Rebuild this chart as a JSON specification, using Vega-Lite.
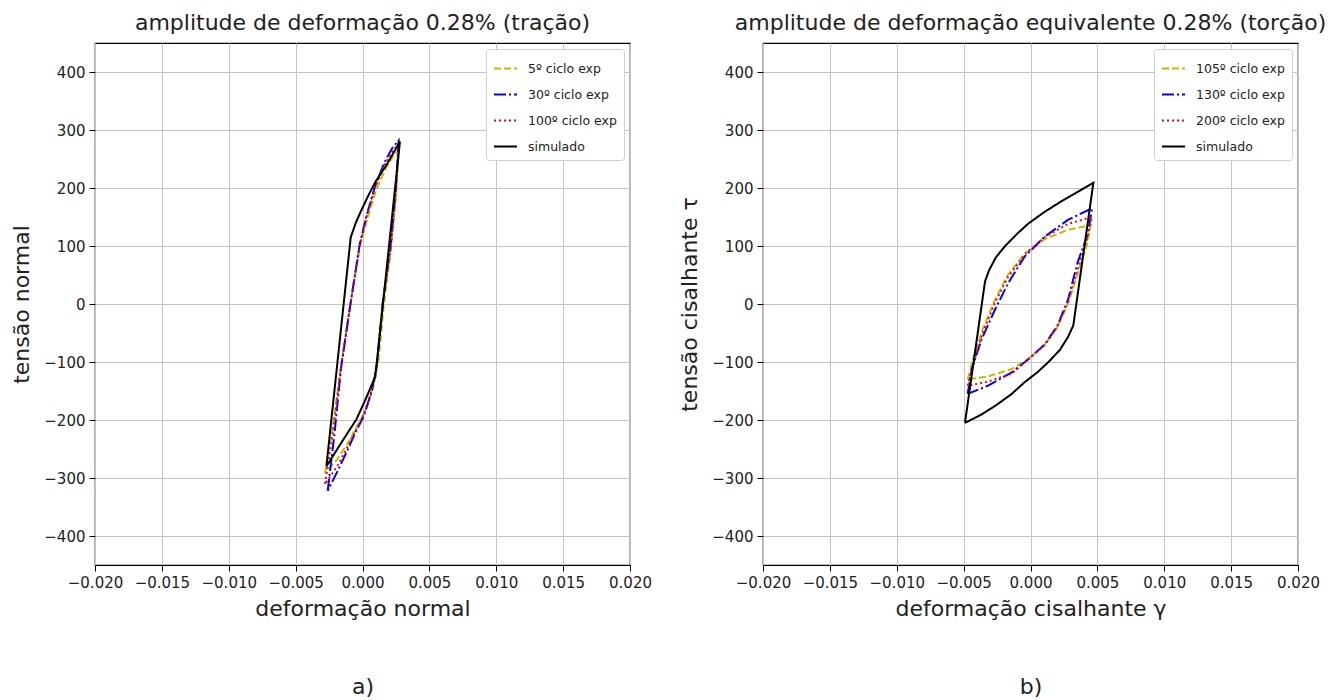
{
  "$schema": "https://vega.github.io/schema/vega-lite/v6.json",
  "padding": {"left": 10, "top": 11, "right": 0, "bottom": 0},
  "spacing": 25,
  "config": {
    "font": "DejaVu Sans",
    "view": {"stroke": "black", "strokeWidth": 1.2},
    "axis": {"grid": true, "gridColor": "#c4c4c4", "gridWidth": 1, "domain": false, "tickColor": "black", "tickSize": 6, "labelFontSize": 15, "labelColor": "#222", "labelFont": "DejaVu Sans", "titleFont": "DejaVu Sans", "titleFontSize": 22, "titleFontWeight": "normal", "titleColor": "#222", "labelPadding": 4, "labelOverlap": false, "labelBound": false, "labelFlush": false},
    "title": {"fontSize": 22, "fontWeight": "normal", "font": "DejaVu Sans", "color": "#222", "offset": 8},
    "legend": {"orient": "top-right", "offset": 6, "fillColor": "white", "strokeColor": "#d0d0d0", "cornerRadius": 3, "padding": 7, "symbolType": "stroke", "symbolSize": 529, "symbolStrokeWidth": 2, "labelFontSize": 12.5, "labelFont": "DejaVu Sans", "labelColor": "#222", "rowPadding": 7, "labelOffset": 10}
  },
  "datasets": {
    "a": [
      {"s": "5º ciclo exp", "i": 0, "x": -0.0028, "y": -292},
      {"s": "5º ciclo exp", "i": 1, "x": -0.0022, "y": -210},
      {"s": "5º ciclo exp", "i": 2, "x": -0.0016, "y": -105},
      {"s": "5º ciclo exp", "i": 3, "x": -0.0009, "y": 0},
      {"s": "5º ciclo exp", "i": 4, "x": -0.0002, "y": 100},
      {"s": "5º ciclo exp", "i": 5, "x": 0.0004, "y": 150},
      {"s": "5º ciclo exp", "i": 6, "x": 0.0010, "y": 195},
      {"s": "5º ciclo exp", "i": 7, "x": 0.0017, "y": 232},
      {"s": "5º ciclo exp", "i": 8, "x": 0.0023, "y": 255},
      {"s": "5º ciclo exp", "i": 9, "x": 0.0027, "y": 265},
      {"s": "5º ciclo exp", "i": 10, "x": 0.0025, "y": 185},
      {"s": "5º ciclo exp", "i": 11, "x": 0.0021, "y": 90},
      {"s": "5º ciclo exp", "i": 12, "x": 0.0016, "y": 0},
      {"s": "5º ciclo exp", "i": 13, "x": 0.0012, "y": -95},
      {"s": "5º ciclo exp", "i": 14, "x": 0.0008, "y": -145},
      {"s": "5º ciclo exp", "i": 15, "x": 0.0002, "y": -185},
      {"s": "5º ciclo exp", "i": 16, "x": -0.0005, "y": -215},
      {"s": "5º ciclo exp", "i": 17, "x": -0.0011, "y": -240},
      {"s": "5º ciclo exp", "i": 18, "x": -0.0019, "y": -268},
      {"s": "5º ciclo exp", "i": 19, "x": -0.0028, "y": -292},
      {"s": "30º ciclo exp", "i": 0, "x": -0.0026, "y": -322},
      {"s": "30º ciclo exp", "i": 1, "x": -0.0021, "y": -225},
      {"s": "30º ciclo exp", "i": 2, "x": -0.0016, "y": -110},
      {"s": "30º ciclo exp", "i": 3, "x": -0.0009, "y": 0},
      {"s": "30º ciclo exp", "i": 4, "x": -0.0002, "y": 104},
      {"s": "30º ciclo exp", "i": 5, "x": 0.0003, "y": 152},
      {"s": "30º ciclo exp", "i": 6, "x": 0.0009, "y": 200},
      {"s": "30º ciclo exp", "i": 7, "x": 0.0016, "y": 242},
      {"s": "30º ciclo exp", "i": 8, "x": 0.0022, "y": 268},
      {"s": "30º ciclo exp", "i": 9, "x": 0.0027, "y": 282},
      {"s": "30º ciclo exp", "i": 10, "x": 0.0025, "y": 200},
      {"s": "30º ciclo exp", "i": 11, "x": 0.0021, "y": 100},
      {"s": "30º ciclo exp", "i": 12, "x": 0.0015, "y": 0},
      {"s": "30º ciclo exp", "i": 13, "x": 0.0011, "y": -100},
      {"s": "30º ciclo exp", "i": 14, "x": 0.0007, "y": -150},
      {"s": "30º ciclo exp", "i": 15, "x": 0.0001, "y": -193},
      {"s": "30º ciclo exp", "i": 16, "x": -0.0006, "y": -225},
      {"s": "30º ciclo exp", "i": 17, "x": -0.0011, "y": -251},
      {"s": "30º ciclo exp", "i": 18, "x": -0.0018, "y": -285},
      {"s": "30º ciclo exp", "i": 19, "x": -0.0026, "y": -322},
      {"s": "100º ciclo exp", "i": 0, "x": -0.0028, "y": -310},
      {"s": "100º ciclo exp", "i": 1, "x": -0.0022, "y": -220},
      {"s": "100º ciclo exp", "i": 2, "x": -0.0016, "y": -108},
      {"s": "100º ciclo exp", "i": 3, "x": -0.0009, "y": 0},
      {"s": "100º ciclo exp", "i": 4, "x": -0.0002, "y": 102},
      {"s": "100º ciclo exp", "i": 5, "x": 0.0003, "y": 150},
      {"s": "100º ciclo exp", "i": 6, "x": 0.0009, "y": 198},
      {"s": "100º ciclo exp", "i": 7, "x": 0.0016, "y": 238},
      {"s": "100º ciclo exp", "i": 8, "x": 0.0022, "y": 262},
      {"s": "100º ciclo exp", "i": 9, "x": 0.0027, "y": 276},
      {"s": "100º ciclo exp", "i": 10, "x": 0.0025, "y": 195},
      {"s": "100º ciclo exp", "i": 11, "x": 0.0021, "y": 95},
      {"s": "100º ciclo exp", "i": 12, "x": 0.0015, "y": 0},
      {"s": "100º ciclo exp", "i": 13, "x": 0.0011, "y": -98},
      {"s": "100º ciclo exp", "i": 14, "x": 0.0007, "y": -148},
      {"s": "100º ciclo exp", "i": 15, "x": 0.0001, "y": -190},
      {"s": "100º ciclo exp", "i": 16, "x": -0.0006, "y": -222},
      {"s": "100º ciclo exp", "i": 17, "x": -0.0012, "y": -250},
      {"s": "100º ciclo exp", "i": 18, "x": -0.0019, "y": -280},
      {"s": "100º ciclo exp", "i": 19, "x": -0.0028, "y": -310},
      {"s": "simulado", "i": 0, "x": -0.0027, "y": -280},
      {"s": "simulado", "i": 1, "x": -0.00088, "y": 115},
      {"s": "simulado", "i": 2, "x": -0.0005, "y": 140},
      {"s": "simulado", "i": 3, "x": -0.0001, "y": 161},
      {"s": "simulado", "i": 4, "x": 0.0005, "y": 190},
      {"s": "simulado", "i": 5, "x": 0.001, "y": 212},
      {"s": "simulado", "i": 6, "x": 0.0018, "y": 240},
      {"s": "simulado", "i": 7, "x": 0.0028, "y": 280},
      {"s": "simulado", "i": 8, "x": 0.00096, "y": -125},
      {"s": "simulado", "i": 9, "x": 0.00016, "y": -168},
      {"s": "simulado", "i": 10, "x": -0.00046, "y": -199},
      {"s": "simulado", "i": 11, "x": -0.00158, "y": -239},
      {"s": "simulado", "i": 12, "x": -0.0027, "y": -280}
    ],
    "b": [
      {"s": "105º ciclo exp", "i": 0, "x": -0.0047, "y": -130},
      {"s": "105º ciclo exp", "i": 1, "x": -0.0043, "y": -95},
      {"s": "105º ciclo exp", "i": 2, "x": -0.0036, "y": -45},
      {"s": "105º ciclo exp", "i": 3, "x": -0.0027, "y": 5},
      {"s": "105º ciclo exp", "i": 4, "x": -0.0017, "y": 50},
      {"s": "105º ciclo exp", "i": 5, "x": -0.0004, "y": 88},
      {"s": "105º ciclo exp", "i": 6, "x": 0.0011, "y": 112},
      {"s": "105º ciclo exp", "i": 7, "x": 0.0028, "y": 128},
      {"s": "105º ciclo exp", "i": 8, "x": 0.0045, "y": 136},
      {"s": "105º ciclo exp", "i": 9, "x": 0.0042, "y": 100},
      {"s": "105º ciclo exp", "i": 10, "x": 0.0035, "y": 50},
      {"s": "105º ciclo exp", "i": 11, "x": 0.0028, "y": 0},
      {"s": "105º ciclo exp", "i": 12, "x": 0.002, "y": -40},
      {"s": "105º ciclo exp", "i": 13, "x": 0.001, "y": -72},
      {"s": "105º ciclo exp", "i": 14, "x": -0.0002, "y": -95},
      {"s": "105º ciclo exp", "i": 15, "x": -0.0014, "y": -112},
      {"s": "105º ciclo exp", "i": 16, "x": -0.0032, "y": -125},
      {"s": "105º ciclo exp", "i": 17, "x": -0.0047, "y": -130},
      {"s": "130º ciclo exp", "i": 0, "x": -0.0047, "y": -155},
      {"s": "130º ciclo exp", "i": 1, "x": -0.0044, "y": -113},
      {"s": "130º ciclo exp", "i": 2, "x": -0.00366, "y": -61},
      {"s": "130º ciclo exp", "i": 3, "x": -0.00266, "y": -10},
      {"s": "130º ciclo exp", "i": 4, "x": -0.00167, "y": 36},
      {"s": "130º ciclo exp", "i": 5, "x": -0.00043, "y": 82},
      {"s": "130º ciclo exp", "i": 6, "x": 0.00105, "y": 116},
      {"s": "130º ciclo exp", "i": 7, "x": 0.0028, "y": 145},
      {"s": "130º ciclo exp", "i": 8, "x": 0.0046, "y": 165},
      {"s": "130º ciclo exp", "i": 9, "x": 0.0043, "y": 122},
      {"s": "130º ciclo exp", "i": 10, "x": 0.0035, "y": 70},
      {"s": "130º ciclo exp", "i": 11, "x": 0.0028, "y": 7},
      {"s": "130º ciclo exp", "i": 12, "x": 0.002, "y": -38},
      {"s": "130º ciclo exp", "i": 13, "x": 0.00105, "y": -70},
      {"s": "130º ciclo exp", "i": 14, "x": -0.0002, "y": -96},
      {"s": "130º ciclo exp", "i": 15, "x": -0.0014, "y": -118},
      {"s": "130º ciclo exp", "i": 16, "x": -0.0032, "y": -141},
      {"s": "130º ciclo exp", "i": 17, "x": -0.0047, "y": -155},
      {"s": "200º ciclo exp", "i": 0, "x": -0.0047, "y": -141},
      {"s": "200º ciclo exp", "i": 1, "x": -0.0043, "y": -105},
      {"s": "200º ciclo exp", "i": 2, "x": -0.0036, "y": -52},
      {"s": "200º ciclo exp", "i": 3, "x": -0.0027, "y": 0},
      {"s": "200º ciclo exp", "i": 4, "x": -0.0017, "y": 46},
      {"s": "200º ciclo exp", "i": 5, "x": -0.0004, "y": 86},
      {"s": "200º ciclo exp", "i": 6, "x": 0.0011, "y": 116},
      {"s": "200º ciclo exp", "i": 7, "x": 0.0028, "y": 138},
      {"s": "200º ciclo exp", "i": 8, "x": 0.0046, "y": 150},
      {"s": "200º ciclo exp", "i": 9, "x": 0.0042, "y": 110},
      {"s": "200º ciclo exp", "i": 10, "x": 0.0035, "y": 58},
      {"s": "200º ciclo exp", "i": 11, "x": 0.0028, "y": 4},
      {"s": "200º ciclo exp", "i": 12, "x": 0.002, "y": -39},
      {"s": "200º ciclo exp", "i": 13, "x": 0.0011, "y": -70},
      {"s": "200º ciclo exp", "i": 14, "x": -0.0002, "y": -96},
      {"s": "200º ciclo exp", "i": 15, "x": -0.0014, "y": -120},
      {"s": "200º ciclo exp", "i": 16, "x": -0.0032, "y": -134},
      {"s": "200º ciclo exp", "i": 17, "x": -0.0047, "y": -141},
      {"s": "simulado", "i": 0, "x": -0.0049, "y": -205},
      {"s": "simulado", "i": 1, "x": -0.0034, "y": 39},
      {"s": "simulado", "i": 2, "x": -0.0031, "y": 58},
      {"s": "simulado", "i": 3, "x": -0.0026, "y": 80},
      {"s": "simulado", "i": 4, "x": -0.0019, "y": 100},
      {"s": "simulado", "i": 5, "x": -0.001, "y": 121},
      {"s": "simulado", "i": 6, "x": -0.0002, "y": 138},
      {"s": "simulado", "i": 7, "x": 0.001, "y": 158},
      {"s": "simulado", "i": 8, "x": 0.0023, "y": 177},
      {"s": "simulado", "i": 9, "x": 0.0035, "y": 193},
      {"s": "simulado", "i": 10, "x": 0.0047, "y": 209},
      {"s": "simulado", "i": 11, "x": 0.0032, "y": -37},
      {"s": "simulado", "i": 12, "x": 0.0028, "y": -57},
      {"s": "simulado", "i": 13, "x": 0.0022, "y": -79},
      {"s": "simulado", "i": 14, "x": 0.0013, "y": -101},
      {"s": "simulado", "i": 15, "x": 0.0005, "y": -118},
      {"s": "simulado", "i": 16, "x": -0.0005, "y": -136},
      {"s": "simulado", "i": 17, "x": -0.0014, "y": -155},
      {"s": "simulado", "i": 18, "x": -0.0026, "y": -175},
      {"s": "simulado", "i": 19, "x": -0.0037, "y": -191},
      {"s": "simulado", "i": 20, "x": -0.0049, "y": -205}
    ]
  },
  "hconcat": [
    {
      "width": 535,
      "height": 522,
      "title": "amplitude de deformação 0.28% (tração)",
      "data": {"name": "a"},
      "mark": {"type": "line", "strokeWidth": 2, "clip": true},
      "encoding": {
        "x": {"field": "x", "type": "quantitative", "scale": {"domain": [-0.02, 0.02], "nice": false, "zero": false}, "axis": {"values": [-0.02, -0.015, -0.01, -0.005, 0, 0.005, 0.01, 0.015, 0.02], "format": ".3f", "title": ["deformação normal", "a)"], "titleLineHeight": 78, "titlePadding": 8}},
        "y": {"field": "y", "type": "quantitative", "scale": {"domain": [-450, 450], "nice": false}, "axis": {"values": [-400, -300, -200, -100, 0, 100, 200, 300, 400], "format": "d", "title": "tensão normal", "titlePadding": 10}},
        "order": {"field": "i", "type": "quantitative"},
        "color": {"field": "s", "type": "nominal", "scale": {"domain": ["5º ciclo exp", "30º ciclo exp", "100º ciclo exp", "simulado"], "range": ["#bfbf00", "#0000ff", "#ff0000", "#000000"]}, "legend": {"title": null}},
        "strokeDash": {"field": "s", "type": "nominal", "scale": {"domain": ["5º ciclo exp", "30º ciclo exp", "100º ciclo exp", "simulado"], "range": [[7, 3], [12, 3, 2, 3], [2, 3], [1, 0]]}, "legend": {"title": null}}
      }
    },
    {
      "width": 535,
      "height": 522,
      "title": "amplitude de deformação equivalente 0.28% (torção)",
      "data": {"name": "b"},
      "mark": {"type": "line", "strokeWidth": 2, "clip": true},
      "encoding": {
        "x": {"field": "x", "type": "quantitative", "scale": {"domain": [-0.02, 0.02], "nice": false, "zero": false}, "axis": {"values": [-0.02, -0.015, -0.01, -0.005, 0, 0.005, 0.01, 0.015, 0.02], "format": ".3f", "title": ["deformação cisalhante γ", "b)"], "titleLineHeight": 78, "titlePadding": 8}},
        "y": {"field": "y", "type": "quantitative", "scale": {"domain": [-450, 450], "nice": false}, "axis": {"values": [-400, -300, -200, -100, 0, 100, 200, 300, 400], "format": "d", "title": "tensão cisalhante τ", "titlePadding": 10}},
        "order": {"field": "i", "type": "quantitative"},
        "color": {"field": "s", "type": "nominal", "scale": {"domain": ["105º ciclo exp", "130º ciclo exp", "200º ciclo exp", "simulado"], "range": ["#bfbf00", "#0000ff", "#ff0000", "#000000"]}, "legend": {"title": null}},
        "strokeDash": {"field": "s", "type": "nominal", "scale": {"domain": ["105º ciclo exp", "130º ciclo exp", "200º ciclo exp", "simulado"], "range": [[7, 3], [12, 3, 2, 3], [2, 3], [1, 0]]}, "legend": {"title": null}}
      }
    }
  ],
  "resolve": {
    "scale": {"color": "independent", "strokeDash": "independent", "x": "independent", "y": "independent"},
    "legend": {"color": "independent", "strokeDash": "independent"}
  }
}
